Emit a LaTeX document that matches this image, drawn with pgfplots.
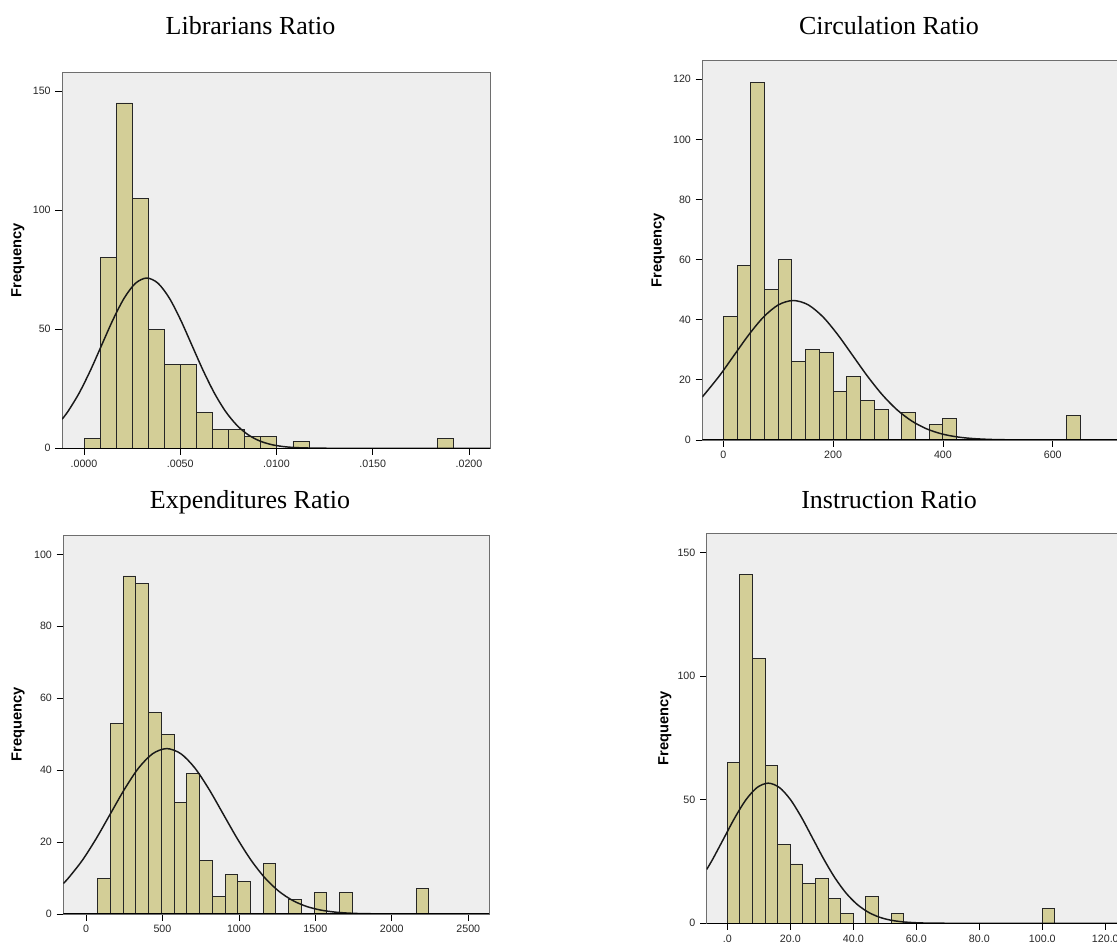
\documentclass[border=0pt]{standalone}
\usepackage{pgfplots}
\pgfplotsset{compat=1.18}
\usepackage{fontspec}
\setmainfont{Liberation Serif}
\newfontfamily\arial{Liberation Sans}
\definecolor{bgc}{RGB}{238,238,238}
\definecolor{barc}{RGB}{211,206,151}
\definecolor{framec}{RGB}{110,110,110}
\newcommand{\tickfont}{\arial\fontsize{8}{9}\selectfont}
\newcommand{\labfont}{\arial\bfseries\fontsize{11}{12}\selectfont}
\newcommand{\titfont}{\fontsize{19.5}{22}\selectfont}
\pgfplotsset{
  spss/.style={
    scale only axis,
    anchor=south west,
    ymin=0,
    axis background/.style={fill=bgc},
    axis line style={draw=framec, line width=0.7pt},
    tick align=outside,
    xtick pos=bottom, ytick pos=left,
    major tick length=5pt,
    tick style={black, line width=0.6pt},
    tick label style={font=\tickfont, text=black!85},
    /pgf/number format/assume math mode=true,
    scaled x ticks=false, scaled y ticks=false,
    ylabel={Frequency},
    ylabel style={font=\labfont, anchor=center},
    minor tick num=0,
  },
  bars/.style={ybar interval, fill=barc, draw=black!85, line width=0.7pt},
  curve/.style={smooth, black!90, line width=1.1pt, mark=none},
}
\begin{document}
\begin{tikzpicture}
\path[use as bounding box] (0,0) rectangle (837.75pt,708pt);
\clip (0,0) rectangle (837.75pt,708pt);

% titles
\node[anchor=base, font=\titfont] at ({250.5*0.75pt},{(944-35)*0.75pt}) {Librarians Ratio};
\node[anchor=base, font=\titfont] at ({889*0.75pt},{(944-35)*0.75pt}) {Circulation Ratio};
\node[anchor=base, font=\titfont] at ({250*0.75pt},{(944-508.3)*0.75pt}) {Expenditures Ratio};
\node[anchor=base, font=\titfont] at ({889*0.75pt},{(944-508.3)*0.75pt}) {Instruction Ratio};

% ---------------- Librarians Ratio
\begin{axis}[spss,
  at={({62*0.75pt},{(944-448.3)*0.75pt})},
  width=321pt, height=282.2pt,
  xmin=-0.001143, xmax=0.02109, ymax=158,
  xtick={0,0.005,0.01,0.015,0.02},
  xticklabels={.0000,.0050,.0100,.0150,.0200},
  ytick={0,50,100,150},
  ylabel style={at={(axis description cs:-0.103,0.5)}},
]
\addplot[bars] coordinates {
(0,4) (0.000835,80) (0.00167,145) (0.002505,105) (0.00334,50) (0.004175,35)
(0.00501,35) (0.005845,15) (0.00668,8) (0.007515,8) (0.00835,5) (0.009185,5)
(0.01002,0) (0.010855,3) (0.01169,0) (0.012525,0) (0.01336,0) (0.014195,0)
(0.01503,0) (0.015865,0) (0.0167,0) (0.017535,0) (0.01837,4) (0.019205,0)
};
\addplot[curve] coordinates {
(-0.001143,12.2) (-0.000835,15.46) (-0.00025,23.21) (0.000335,32.73)
(0.00092,43.37) (0.001505,53.97) (0.00209,63.10) (0.002675,69.30)
(0.00326,71.5) (0.003845,69.30) (0.00443,63.10) (0.005015,53.97)
(0.0056,43.37) (0.006185,32.73) (0.00677,23.21) (0.007355,15.46)
(0.00794,9.68) (0.008525,5.69) (0.00911,3.14) (0.009695,1.63)
(0.01028,0.79) (0.010865,0.36) (0.01145,0.16) (0.01262,0.02)
(0.0140,0) (0.02109,0)
};
\draw[black, line width=1.1pt] (rel axis cs:0,0) -- (rel axis cs:1,0);
\end{axis}

% ---------------- Circulation Ratio
\begin{axis}[spss,
  at={({702.3*0.75pt},{(944-440)*0.75pt})},
  width=321pt, height=285pt,
  xmin=-38.25, xmax=741.3, ymax=126.4,
  xtick={0,200,400,600},
  xticklabels={0,200,400,600},
  ytick={0,20,40,60,80,100,120},
  ylabel style={at={(axis description cs:-0.1035,0.5)}},
]
\addplot[bars] coordinates {
(0,41) (25,58) (50,119) (75,50) (100,60) (125,26) (150,30) (175,29) (200,16)
(225,21) (250,13) (275,10) (300,0) (325,9) (350,0) (375,5) (400,7) (425,0)
(450,0) (475,0) (500,0) (525,0) (550,0) (575,0) (600,0) (625,8) (650,0)
};
\addplot[curve] coordinates {
(-38.25,14.3) (-7.5,21.24) (19.5,28.14) (46.5,35.02) (73.5,40.95)
(100.5,44.97) (127.5,46.4) (154.5,44.97) (181.5,40.95) (208.5,35.02)
(235.5,28.14) (262.5,21.24) (289.5,15.06) (316.5,10.03) (343.5,6.28)
(370.5,3.69) (397.5,2.04) (424.5,1.06) (451.5,0.52) (478.5,0.24)
(505.5,0.10) (559.5,0.016) (620,0) (741.3,0)
};
\draw[black, line width=1.1pt] (rel axis cs:0,0) -- (rel axis cs:1,0);
\end{axis}

% ---------------- Expenditures Ratio
\begin{axis}[spss,
  at={({63.3*0.75pt},{(944-914)*0.75pt})},
  width=319.5pt, height=284.25pt,
  xmin=-148.5, xmax=2637.6, ymax=105.4,
  xtick={0,500,1000,1500,2000,2500},
  xticklabels={0,500,1000,1500,2000,2500},
  ytick={0,20,40,60,80,100},
  ylabel style={at={(axis description cs:-0.106,0.5)}},
]
\addplot[bars] coordinates {
(76.3,10) (159.6,53) (242.9,94) (326.1,92) (409.4,56) (492.7,50) (576.0,31)
(659.3,39) (742.5,15) (825.8,5) (909.1,11) (992.4,9) (1075.7,0) (1158.9,14)
(1242.2,0) (1325.5,4) (1408.8,0) (1492.1,6) (1575.3,0) (1658.6,6) (1741.9,0)
(1825.2,0) (1908.5,0) (1991.7,0) (2075.0,0) (2158.3,7) (2241.6,0)
};
\addplot[curve] coordinates {
(-148.5,8.5) (-116,9.95) (-24,14.93) (68,21.06) (160,27.90) (252,34.72) (344,40.60)
(436,44.58) (528,46) (620,44.58) (712,40.60) (804,34.72) (896,27.90)
(988,21.06) (1080,14.93) (1172,9.95) (1264,6.23) (1356,3.66) (1448,2.02)
(1540,1.05) (1632,0.51) (1724,0.23) (1816,0.10) (2000,0.016)
(2200,0) (2637.6,0)
};
\draw[black, line width=1.1pt] (rel axis cs:0,0) -- (rel axis cs:1,0);
\end{axis}

% ---------------- Instruction Ratio
\begin{axis}[spss,
  at={({706.7*0.75pt},{(944-923.3)*0.75pt})},
  width=319.5pt, height=292.5pt,
  xmin=-6.54, xmax=128.7, ymax=157.8,
  xtick={0,20,40,60,80,100,120},
  xticklabels={.0,20.0,40.0,60.0,80.0,100.0,120.0},
  ytick={0,50,100,150},
  ylabel style={at={(axis description cs:-0.098,0.5)}},
]
\addplot[bars] coordinates {
(0,65) (4,141) (8,107) (12,64) (16,32) (20,24) (24,16) (28,18) (32,10) (36,4)
(40,0) (44,11) (48,0) (52,4) (56,0) (60,0) (64,0) (68,0) (72,0) (76,0) (80,0)
(84,0) (88,0) (92,0) (96,0) (100,6) (104,0)
};
\addplot[curve] coordinates {
(-6.54,21.8) (-4.625,25.96) (-1.1,34.39) (2.425,42.80) (5.95,50.04)
(9.475,54.96) (13,56.7) (16.525,54.96) (20.05,50.04) (23.575,42.80)
(27.1,34.39) (30.625,25.96) (34.15,18.41) (37.675,12.26) (41.2,7.67)
(44.725,4.51) (48.25,2.49) (51.775,1.29) (55.3,0.63) (58.825,0.29)
(62.35,0.12) (69.4,0.02) (78,0) (128.7,0)
};
\draw[black, line width=1.1pt] (rel axis cs:0,0) -- (rel axis cs:1,0);
\end{axis}
\end{tikzpicture}
\end{document}
